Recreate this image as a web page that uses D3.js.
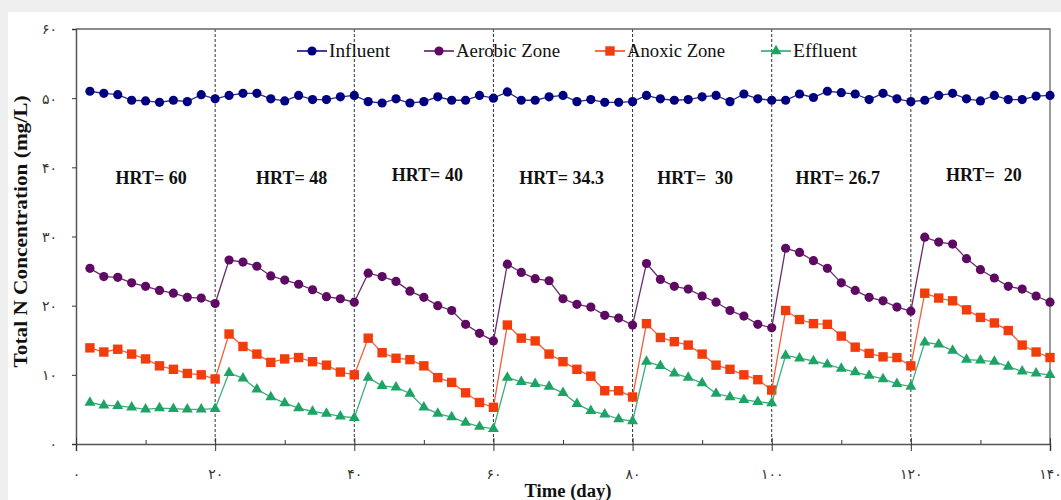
<!DOCTYPE html>
<html>
<head>
<meta charset="utf-8">
<script src="https://cdn.jsdelivr.net/npm/d3@7"></script>
<style>
  html, body { margin: 0; padding: 0; background: #efefef; }
  svg { display: block; }
</style>
</head>
<body>
<div id="chart"></div>
<script>
// sampling days (every 2 days)
const days = [2, 4, 6, 8, 10, 12, 14, 16, 18, 20,
  22, 24, 26, 28, 30, 32, 34, 36, 38, 40,
  42, 44, 46, 48, 50, 52, 54, 56, 58, 60,
  62, 64, 66, 68, 70, 72, 74, 76, 78, 80,
  82, 84, 86, 88, 90, 92, 94, 96, 98, 100,
  102, 104, 106, 108, 110, 112, 114, 116, 118, 120,
  122, 124, 126, 128, 130, 132, 134, 136, 138, 140];

const influent = [51.0, 50.7, 50.5, 49.7, 49.6, 49.4, 49.7, 49.5, 50.5, 49.9,
  50.4, 50.7, 50.7, 49.9, 49.6, 50.4, 49.8, 49.8, 50.2, 50.4,
  49.5, 49.3, 49.9, 49.3, 49.5, 50.2, 49.7, 49.7, 50.4, 50.0,
  50.9, 49.7, 49.7, 50.2, 50.4, 49.5, 49.8, 49.4, 49.4, 49.5,
  50.4, 49.9, 49.7, 49.8, 50.2, 50.4, 49.5, 50.6, 49.9, 49.7,
  49.7, 50.6, 50.1, 51.0, 50.8, 50.6, 49.8, 50.7, 49.9, 49.5,
  49.7, 50.4, 50.7, 49.9, 49.6, 50.4, 49.8, 49.8, 50.3, 50.4];

const aerobic = [25.4, 24.2, 24.1, 23.3, 22.8, 22.2, 21.8, 21.2, 21.1, 20.3,
  26.6, 26.3, 25.7, 24.3, 23.7, 23.1, 22.3, 21.3, 21.0, 20.5,
  24.7, 24.2, 23.5, 22.1, 21.2, 20.0, 19.3, 17.3, 16.0, 14.9,
  26.0, 24.8, 23.9, 23.6, 21.0, 20.2, 19.8, 18.6, 18.2, 17.2,
  26.1, 23.8, 22.8, 22.4, 21.4, 20.5, 19.3, 18.5, 17.3, 16.8,
  28.3, 27.7, 26.5, 25.4, 23.3, 22.2, 21.2, 20.7, 19.8, 19.2,
  29.9, 29.2, 28.9, 26.8, 25.2, 24.0, 22.8, 22.4, 21.4, 20.5];

const anoxic = [13.9, 13.3, 13.7, 13.0, 12.3, 11.3, 10.8, 10.2, 10.0, 9.4,
  15.9, 14.1, 13.0, 11.8, 12.3, 12.5, 11.9, 11.4, 10.4, 10.0,
  15.3, 13.2, 12.4, 12.2, 11.3, 9.6, 8.9, 7.4, 6.0, 5.3,
  17.2, 15.3, 14.9, 13.0, 11.9, 10.8, 9.8, 7.7, 7.7, 6.8,
  17.4, 15.4, 14.8, 14.3, 13.0, 11.4, 10.8, 10.0, 9.3, 7.8,
  19.3, 18.0, 17.4, 17.3, 15.6, 14.0, 13.1, 12.6, 12.5, 11.3,
  21.8, 21.1, 20.7, 19.4, 18.3, 17.5, 16.4, 14.3, 13.3, 12.5];

const effluent = [6.0, 5.6, 5.5, 5.3, 5.0, 5.2, 5.1, 5.0, 5.0, 5.1,
  10.3, 9.5, 7.9, 6.8, 5.9, 5.2, 4.7, 4.4, 4.0, 3.8,
  9.6, 8.4, 8.2, 7.3, 5.3, 4.4, 3.9, 3.1, 2.5, 2.2,
  9.6, 9.0, 8.7, 8.3, 7.4, 5.8, 4.8, 4.3, 3.6, 3.3,
  11.9, 11.3, 10.2, 9.6, 8.8, 7.3, 6.8, 6.4, 6.1, 5.9,
  12.8, 12.4, 12.0, 11.5, 10.9, 10.4, 9.9, 9.4, 8.7, 8.3,
  14.7, 14.4, 13.5, 12.2, 12.1, 11.9, 11.2, 10.5, 10.2, 10.0];

const seriesNames = ["Influent", "Aerobic Zone", "Anoxic Zone", "Effluent"];
const seriesColors = ["#000080", "#5e0a62", "#f23c0c", "#1ea364"];
const seriesLineColors = ["#2a2a80", "#6a2a6e", "#f0603a", "#3aae78"];
const seriesShapes = ["circle", "circle", "square", "triangle"];

// HRT periods
const hrtBounds = [20, 40, 60, 80, 100, 120];
const hrtLabels = ["HRT= 60", "HRT= 48", "HRT= 40", "HRT= 34.3", "HRT=\u00a0 30", "HRT= 26.7", "HRT=\u00a0 20"];
const hrtCenters = [10.8, 31, 50.5, 69.8, 89, 109.5, 130.5];
const hrtLevels = [37.6, 37.6, 38.0, 37.6, 37.6, 37.6, 38.0];

const xTicks = [0, 20, 40, 60, 80, 100, 120, 140];
const xMinor = [10, 30, 50, 70, 90, 110, 130];
const yTicks = [0, 10, 20, 30, 40, 50, 60];

const W = 1061, H = 500;
const serif = "'Liberation Serif', 'Times New Roman', serif";
const faDigits = "۰۱۲۳۴۵۶۷۸۹";
const fa = n => String(n).replace(/[0-9]/g, c => faDigits[+c]);

const x = d3.scaleLinear().domain([0, 140]).range([76, 1050]);
const y = d3.scaleLinear().domain([0, 60]).range([444, 29]);

const svg = d3.select("#chart").append("svg")
  .attr("width", W).attr("height", H);

svg.append("rect")
  .attr("x", 8).attr("y", 12)
  .attr("width", W - 8).attr("height", H - 12)
  .attr("fill", "#ffffff");

// HRT separators
svg.append("g").selectAll("line")
  .data(hrtBounds)
  .join("line")
  .attr("x1", d => x(d)).attr("x2", d => x(d))
  .attr("y1", y(60)).attr("y2", y(0))
  .attr("stroke", "#333")
  .attr("stroke-width", 1)
  .attr("stroke-dasharray", "3,2");

// frame (top + right)
svg.append("path")
  .attr("d", `M${x(0)},${y(60)}H${x(140)}V${y(0)}`)
  .attr("fill", "none")
  .attr("stroke", "#666")
  .attr("stroke-width", 1.3);

// axes
const yAxis = svg.append("g")
  .attr("transform", `translate(${x(0)},0)`)
  .call(d3.axisLeft(y).tickValues(yTicks).tickSize(4).tickPadding(15).tickFormat(fa));

const xAxis = svg.append("g")
  .attr("transform", `translate(0,${y(0)})`)
  .call(d3.axisBottom(x).tickValues(xTicks).tickSize(7).tickPadding(18).tickFormat(fa));

const xUp = svg.append("g")
  .attr("transform", `translate(0,${y(0)})`)
  .call(d3.axisTop(x).tickValues(xTicks).tickSize(6).tickFormat(""));
xUp.select(".domain").remove();

const xMinorAxis = svg.append("g")
  .attr("transform", `translate(0,${y(0)})`)
  .call(d3.axisTop(x).tickValues(xMinor).tickSize(4).tickFormat(""));
xMinorAxis.select(".domain").remove();

[yAxis, xAxis, xUp, xMinorAxis].forEach(g => {
  g.selectAll(".domain").attr("stroke", "#555").attr("stroke-width", 1.5);
  g.selectAll(".tick line").attr("stroke", "#333");
  g.selectAll("text")
    .style("font-family", "'DejaVu Sans', sans-serif")
    .style("font-size", "14px")
    .attr("fill", "#333");
});
yAxis.selectAll("text").attr("dy", "0.35em");

// axis titles
svg.append("text")
  .attr("x", 568).attr("y", 497)
  .attr("text-anchor", "middle")
  .attr("textLength", 87).attr("lengthAdjust", "spacingAndGlyphs")
  .style("font-family", serif).style("font-size", "18px").style("font-weight", "bold")
  .attr("fill", "#111")
  .text("Time (day)");

svg.append("text")
  .attr("transform", `translate(27,${y(30) - 5}) rotate(-90)`)
  .attr("text-anchor", "middle")
  .attr("textLength", 272).attr("lengthAdjust", "spacingAndGlyphs")
  .style("font-family", serif).style("font-size", "18px").style("font-weight", "bold")
  .attr("fill", "#111")
  .text("Total N Concentration (mg/L)");

// HRT labels
svg.append("g").selectAll("text")
  .data(hrtLabels)
  .join("text")
  .attr("x", (d, i) => x(hrtCenters[i]))
  .attr("y", (d, i) => y(hrtLevels[i]))
  .attr("text-anchor", "middle")
  .style("font-family", serif).style("font-size", "18px").style("font-weight", "bold")
  .attr("fill", "#111")
  .text(d => d);

// series
const allSeries = [influent, aerobic, anoxic, effluent];
const line = d3.line().x(d => x(d[0])).y(d => y(d[1]));

function drawMarker(g, shape, color) {
  if (shape === "circle") {
    g.append("circle").attr("r", 4.6).attr("fill", color);
  } else if (shape === "square") {
    g.append("rect").attr("x", -4.7).attr("y", -4.7).attr("width", 9.4).attr("height", 9.4).attr("fill", color);
  } else {
    g.append("path").attr("d", d3.symbol().type(d3.symbolTriangle).size(52)()).attr("fill", color);
  }
}

allSeries.forEach((vals, si) => {
  const pts = days.map((d, i) => [d, vals[i]]);
  const g = svg.append("g");
  g.append("path")
    .datum(pts)
    .attr("d", line)
    .attr("fill", "none")
    .attr("stroke", seriesLineColors[si])
    .attr("stroke-width", 1.3);
  g.selectAll("g.mk")
    .data(pts)
    .join("g")
    .attr("class", "mk")
    .attr("transform", d => `translate(${x(d[0])},${y(d[1])})`)
    .each(function () { drawMarker(d3.select(this), seriesShapes[si], seriesColors[si]); });
});

// legend
const legendX = [297, 424, 595, 761];
const legendTextLen = [61, 104, 98, 64];
const legendY = 51;
seriesNames.forEach((name, i) => {
  const lg = svg.append("g").attr("transform", `translate(${legendX[i]},${legendY})`);
  lg.append("line")
    .attr("x1", 0).attr("x2", 30)
    .attr("stroke", seriesColors[i]).attr("stroke-width", 1.5);
  const m = lg.append("g").attr("transform", "translate(15,0)");
  drawMarker(m, seriesShapes[i], seriesColors[i]);
  lg.append("text")
    .attr("x", 32).attr("y", 6)
    .attr("textLength", legendTextLen[i]).attr("lengthAdjust", "spacingAndGlyphs")
    .style("font-family", serif).style("font-size", "18px")
    .attr("fill", "#111")
    .text(name);
});
</script>
</body>
</html>
